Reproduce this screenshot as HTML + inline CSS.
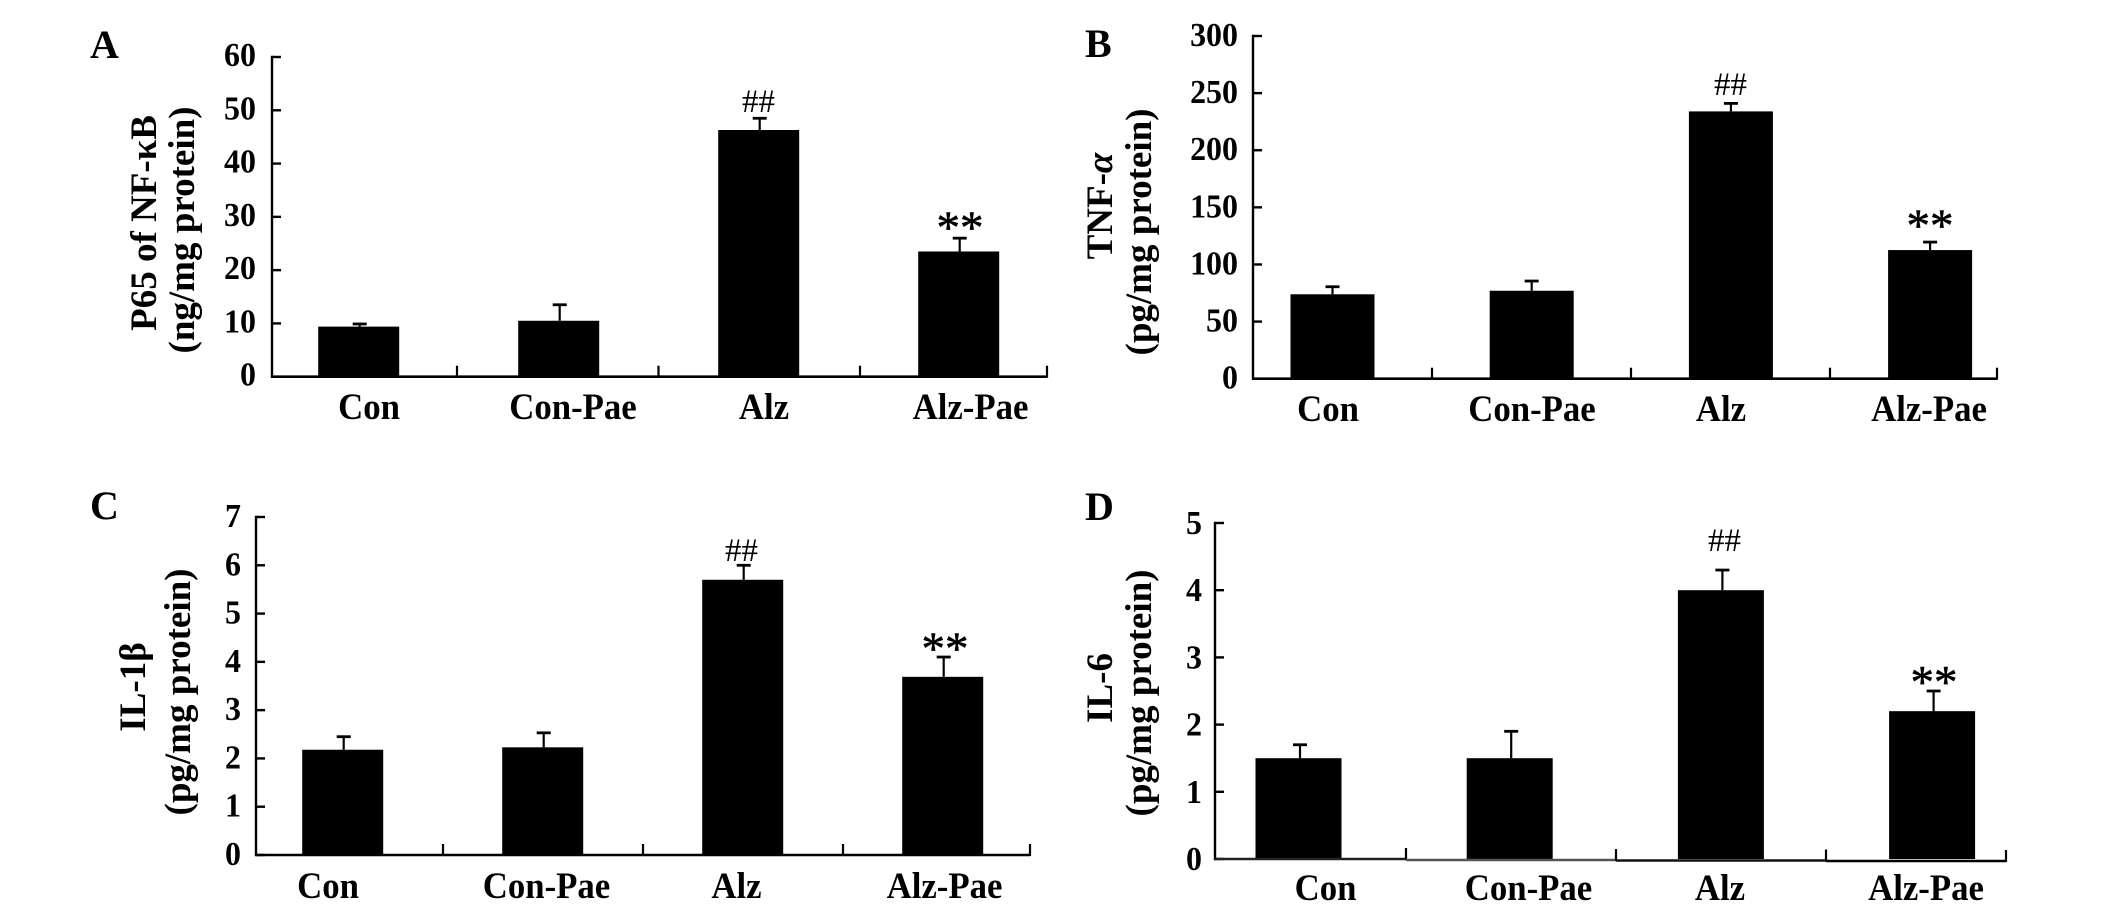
<!DOCTYPE html>
<html lang="en">
<head>
<meta charset="utf-8">
<title>Cytokine bar charts</title>
<style>
  html, body { margin: 0; padding: 0; background: #fff; }
  #figure { display: block; width: 2126px; height: 912px; background: #fff; }
  text { font-family: "Liberation Serif", "DejaVu Serif", serif; fill: #000; }
  .tick-label { font-size: 34px; font-weight: 700; }
  .cat-label { font-size: 37px; font-weight: 700; }
  .axis-title { font-size: 37px; font-weight: 700; }
  .panel-label { font-size: 40px; font-weight: 700; }
  .hash-mark { font-size: 33px; }
  .star-mark { font-size: 47px; stroke: #000; stroke-width: 0.6px; }
</style>
</head>
<body>
<svg id="figure" xmlns="http://www.w3.org/2000/svg" width="2126" height="912" viewBox="0 0 2126 912"></svg>
<script>
const categories = ["Con", "Con-Pae", "Alz", "Alz-Pae"];

const panelAValues = [9.4, 10.5, 46.3, 23.5];
const panelAErrorTops = [9.9, 13.5, 48.5, 26];
const panelATicks = [0, 10, 20, 30, 40, 50, 60];

const panelBValues = [73.9, 77, 234, 112.6];
const panelBErrorTops = [80.5, 85.5, 241, 119.6];
const panelBTicks = [0, 50, 100, 150, 200, 250, 300];

const panelCValues = [2.18, 2.23, 5.7, 3.69];
const panelCErrorTops = [2.45, 2.53, 6, 4.1];
const panelCTicks = [0, 1, 2, 3, 4, 5, 6, 7];

const panelDValues = [1.5, 1.5, 4, 2.2];
const panelDErrorTops = [1.7, 1.9, 4.3, 2.5];
const panelDTicks = [0, 1, 2, 3, 4, 5];

const SVG_NS = "http://www.w3.org/2000/svg";
const root = document.getElementById("figure");

function line(parent, x1, y1, x2, y2, width, color) {
  const el = document.createElementNS(SVG_NS, "line");
  el.setAttribute("x1", x1);
  el.setAttribute("y1", y1);
  el.setAttribute("x2", x2);
  el.setAttribute("y2", y2);
  el.setAttribute("stroke", color || "#000");
  el.setAttribute("stroke-width", width);
  parent.appendChild(el);
  return el;
}

function label(parent, str, x, y, cls, anchor) {
  const el = document.createElementNS(SVG_NS, "text");
  el.setAttribute("x", x);
  el.setAttribute("y", y);
  el.setAttribute("class", cls);
  el.setAttribute("text-anchor", anchor || "middle");
  const parts = str.split("α");
  parts.forEach(function (part, i) {
    if (i > 0) {
      const greek = document.createElementNS(SVG_NS, "tspan");
      greek.setAttribute("font-style", "italic");
      greek.textContent = "α";
      el.appendChild(greek);
    }
    el.appendChild(document.createTextNode(part));
  });
  parent.appendChild(el);
  return el;
}

function condensed(parent, str, x, y, cls, anchor) {
  const el = label(parent, str, 0, 0, cls, anchor);
  el.setAttribute("transform", "translate(" + x + "," + y + ") scale(0.94,1)");
  return el;
}

function drawPanel(cfg) {
  const g = document.createElementNS(SVG_NS, "g");
  
  
  root.appendChild(g);

  const maxTick = cfg.ticks[cfg.ticks.length - 1];
  const yScale = function (v) { return cfg.base - (v / maxTick) * (cfg.base - cfg.top); };
  const xCenter = function (i) { return cfg.firstCenter + i * cfg.step; };

  const panelLabel = label(g, cfg.id, cfg.labelX, cfg.labelY, "panel-label", "start");
  
  

  /* bars and error bars */
  cfg.values.forEach(function (v, i) {
    const cx = xCenter(i);
    const errTop = yScale(cfg.errors[i]);
    const stem = line(g, cx + cfg.errShift, yScale(v), cx + cfg.errShift, errTop, 2.2);
    
    
    const cap = line(g, cx + cfg.errShift - 7, errTop, cx + cfg.errShift + 7, errTop, 2.8);
    
    
    const bar = document.createElementNS(SVG_NS, "rect");
    bar.setAttribute("x", cx - cfg.barW / 2);
    bar.setAttribute("y", yScale(v));
    bar.setAttribute("width", cfg.barW);
    bar.setAttribute("height", cfg.base - yScale(v));
    bar.setAttribute("fill", "#000");
    
    
    g.appendChild(bar);
    const cat = condensed(g, categories[i], cfg.catCenter + i * cfg.catStep + (i === 2 ? cfg.alzShift : 0) + (i === 3 ? cfg.lastShift : 0), cfg.catY, "cat-label");
    
    
  });

  /* y axis */
  const yAxis = line(g, cfg.axisX, cfg.top - 1.2, cfg.axisX, cfg.base + 1.3, 2.4);
  
  
  cfg.ticks.forEach(function (t) {
    const tick = line(g, cfg.axisX, yScale(t), cfg.axisX + 9, yScale(t), 2.4);
    
    
    const tl = condensed(g, String(t), cfg.tickRight, yScale(t) + cfg.tickDy, "tick-label", "end");
    
    
  });

  /* x axis */
  const stops = [cfg.axisX].concat(cfg.xStops);
  for (let i = 0; i < stops.length - 1; i++) {
    const seg = line(g, stops[i], cfg.base + cfg.baseTilt[i], stops[i + 1], cfg.base + cfg.baseTilt[i], 2.6, cfg.baseColors[i]);
    
    
    const xt = line(g, stops[i + 1], cfg.base + cfg.baseTilt[i] - 11, stops[i + 1], cfg.base + cfg.baseTilt[i] + 1, 2.2);
    
    
  }

  /* axis titles */
  cfg.titles.forEach(function (t) {
    const el = label(g, t.text, 0, 0, "axis-title");
    el.setAttribute("transform", "translate(" + t.x + "," + t.y + ") rotate(-90)");
    
    
  });

  /* significance marks */
  const hash = label(g, "##", cfg.hashX, cfg.hashY, "hash-mark");
  
  
  const star = label(g, "**", cfg.starX, cfg.starY, "star-mark");
  
  
}

const blackSegs = ["#000", "#000", "#000", "#000"];
const flat = [0, 0, 0, 0];

drawPanel({
  id: "A", values: panelAValues, errors: panelAErrorTops, ticks: panelATicks,
  axisX: 272, top: 57, base: 376.7, firstCenter: 358.7, step: 200, barW: 81, errShift: 1,
  xStops: [457, 658.5, 860, 1047], baseTilt: flat, baseColors: blackSegs,
  tickRight: 256, tickDy: 9, catCenter: 369, catStep: 204, alzShift: -13, lastShift: -10.5, catY: 419,
  labelX: 90, labelY: 58,
  titles: [{ text: "P65 of NF-κB", x: 156, y: 223 }, { text: "(ng/mg protein)", x: 194, y: 230 }],
  hashX: 758.5, hashY: 112, starX: 960, starY: 243
});

drawPanel({
  id: "B", values: panelBValues, errors: panelBErrorTops, ticks: panelBTicks,
  axisX: 1253, top: 36, base: 378.7, firstCenter: 1332.5, step: 199.2, barW: 84, errShift: 0,
  xStops: [1432, 1631, 1830, 1997], baseTilt: flat, baseColors: blackSegs,
  tickRight: 1238, tickDy: 10, catCenter: 1328, catStep: 204, alzShift: -15, lastShift: -11, catY: 421,
  labelX: 1085, labelY: 57,
  titles: [{ text: "TNF-α", x: 1112, y: 206 }, { text: "(pg/mg protein)", x: 1151, y: 232 }],
  hashX: 1730.5, hashY: 95, starX: 1930, starY: 241
});

drawPanel({
  id: "C", values: panelCValues, errors: panelCErrorTops, ticks: panelCTicks,
  axisX: 256, top: 517, base: 855, firstCenter: 342.7, step: 200, barW: 81, errShift: 1,
  xStops: [443, 643, 843, 1030], baseTilt: flat, baseColors: blackSegs,
  tickRight: 241, tickDy: 10, catCenter: 328, catStep: 218.5, alzShift: -28.5, lastShift: -39, catY: 898,
  labelX: 90, labelY: 519,
  titles: [{ text: "IL-1β", x: 145, y: 687 }, { text: "(pg/mg protein)", x: 190, y: 692 }],
  hashX: 741.5, hashY: 561, starX: 945, starY: 664
});

drawPanel({
  id: "D", values: panelDValues, errors: panelDErrorTops, ticks: panelDTicks,
  axisX: 1215, top: 523, base: 859, firstCenter: 1298.5, step: 211.2, barW: 86, errShift: 1.5,
  xStops: [1406, 1616, 1826, 2006], baseTilt: [0, 1, 1.5, 2], baseColors: ["#222", "#555", "#111", "#000"],
  tickRight: 1202, tickDy: 11, catCenter: 1325.5, catStep: 203, alzShift: -11.5, lastShift: -8.5, catY: 900,
  labelX: 1085, labelY: 520,
  titles: [{ text: "IL-6", x: 1112, y: 688 }, { text: "(pg/mg protein)", x: 1151, y: 693 }],
  hashX: 1724.5, hashY: 551, starX: 1934, starY: 697.5
});
</script>
</body>
</html>
